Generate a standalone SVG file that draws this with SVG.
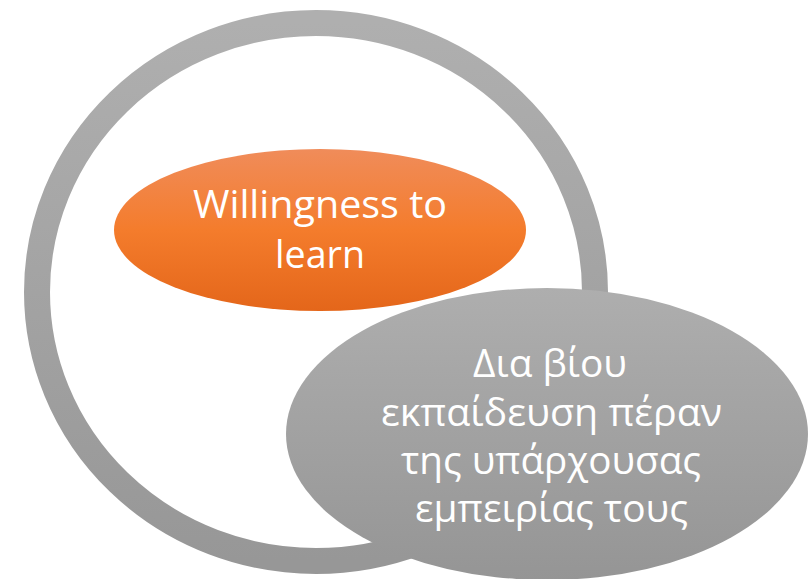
<svg xmlns="http://www.w3.org/2000/svg" width="808" height="579" viewBox="0 0 808 579">
<defs>
<linearGradient id="gRing" x1="0" y1="0" x2="0" y2="1">
<stop offset="0" stop-color="#AFAFAF"/>
<stop offset="1" stop-color="#979797"/>
</linearGradient>
<linearGradient id="gOrange" x1="0" y1="0" x2="0" y2="1">
<stop offset="0" stop-color="#F08C5A"/>
<stop offset="0.5" stop-color="#F47C2C"/>
<stop offset="1" stop-color="#E4661A"/>
</linearGradient>
<linearGradient id="gGray" x1="0" y1="0" x2="0" y2="1">
<stop offset="0" stop-color="#AEAEAE"/>
<stop offset="1" stop-color="#959595"/>
</linearGradient>
</defs>
<style>
.lbl{font-family:"Open Sans","Noto Sans","DejaVu Sans",sans-serif;fill:#FFFFFF;text-anchor:middle}
</style>
<rect width="808" height="579" fill="#FFFFFF"/>
<g id="ring">
<ellipse cx="316" cy="292" rx="279" ry="269" fill="none" stroke="url(#gRing)" stroke-width="26"/>
</g>
<g id="node-willingness">
<ellipse cx="320" cy="230" rx="206" ry="81" fill="url(#gOrange)"/>
<text class="lbl" font-size="38" x="320" y="218" textLength="254" lengthAdjust="spacingAndGlyphs">Willingness to</text>
<text class="lbl" font-size="38" x="320" y="268" textLength="90" lengthAdjust="spacingAndGlyphs">learn</text>
</g>
<g id="node-lifelong">
<ellipse cx="547" cy="434" rx="261" ry="146" fill="url(#gGray)"/>
<text class="lbl" font-size="38" x="550" y="377" textLength="154" lengthAdjust="spacingAndGlyphs">Δια βίου</text>
<text class="lbl" font-size="38" x="551.5" y="426" textLength="341" lengthAdjust="spacingAndGlyphs">εκπαίδευση πέραν</text>
<text class="lbl" font-size="38" x="551" y="474" textLength="300" lengthAdjust="spacingAndGlyphs">της υπάρχουσας</text>
<text class="lbl" font-size="38" x="551.5" y="522" textLength="273" lengthAdjust="spacingAndGlyphs">εμπειρίας τους</text>
</g>
<g id="connectors"></g>
</svg>
